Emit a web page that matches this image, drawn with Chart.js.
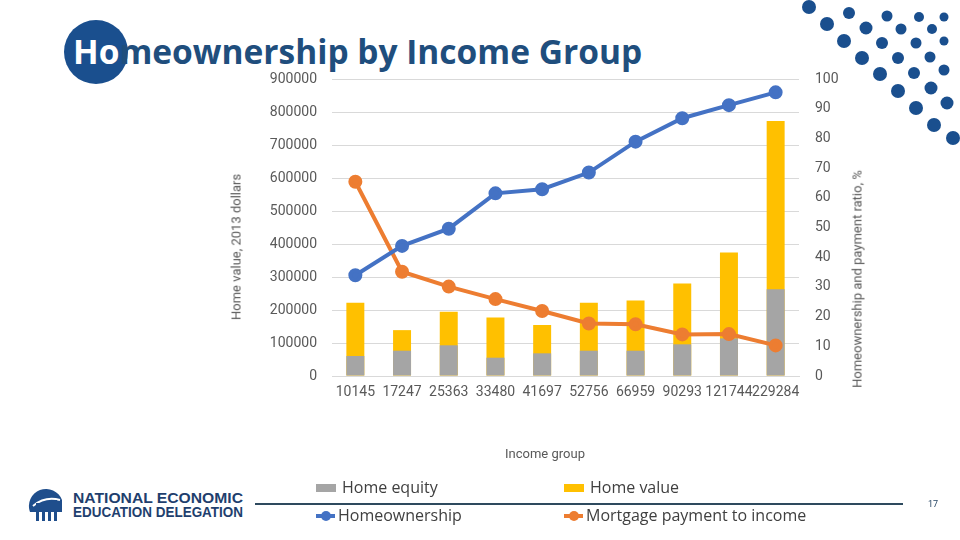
<!DOCTYPE html>
<html lang="en">
<head>
    <meta charset="UTF-8">
    <title>Homeownership by Income Group</title>
    <script src="https://cdn.jsdelivr.net/npm/chart.js"></script>
    <style>
        body {
            margin: 0;
            width: 960px;
            height: 540px;
            background: #fff;
            overflow: hidden;
            position: relative;
            font-family: 'Roboto', sans-serif;
        }
        .chart-container {
            position: absolute;
            left: 0;
            top: 0;
            width: 960px;
            height: 540px;
        }
        #title {
            position: absolute;
            left: 73px;
            top: 28px;
            font-family: 'Open Sans', sans-serif;
            font-weight: 700;
            font-size: 33.5px;
            color: #1f4e7d;
            white-space: nowrap;
        }
        #title .ho { color: #fff; }
        #circle {
            position: absolute;
            left: 64px;
            top: 20px;
            width: 64px;
            height: 64px;
            border-radius: 50%;
            background: #1a4f8e;
        }
        .axis-title {
            position: absolute;
            font-size: 13px;
            color: #595959;
            white-space: nowrap;
        }
        .rot {
            transform: translate(-50%, -50%) rotate(-90deg);
        }
        .legend-item {
            position: absolute;
            font-family: 'Open Sans', sans-serif;
            font-size: 16px;
            color: #404040;
            white-space: nowrap;
            line-height: 20px;
        }
        #rule {
            position: absolute;
            left: 255px;
            top: 503px;
            width: 648px;
            height: 1.5px;
            background: #2e4a5e;
        }
        #page {
            position: absolute;
            left: 928px;
            top: 499px;
            font-size: 9px;
            color: #1f3f5f;
        }
    </style>
</head>
<body>
    <div id="circle"></div>
    <div id="title"><span class="ho">Ho</span>meownership by Income Group</div>

    <svg width="960" height="540" style="position:absolute;left:0;top:0" id="deco"></svg>

    <div class="chart-container">
        <canvas id="homeChart"></canvas>
    </div>

    <div class="axis-title rot" style="left:236px;top:247px">Home value, 2013 dollars</div>
    <div class="axis-title rot" style="left:857px;top:279px">Homeownership and payment ratio, %</div>
    <div class="axis-title" style="left:545px;top:453px;transform:translate(-50%,-50%)">Income group</div>

    <div id="legend"></div>
    <div id="rule"></div>
    <div id="page">17</div>

    <script>
        const incomeGroups = ['10145', '17247', '25363', '33480', '41697', '52756', '66959', '90293', '121744', '229284'];
        const homeEquity = [60600, 76700, 93000, 55500, 68700, 76700, 76700, 96000, 114000, 263000];
        const homeValue = [222000, 139000, 195000, 177000, 154500, 222000, 229000, 280000, 374000, 773000];
        const homeownership = [33.9, 43.8, 49.6, 61.5, 62.9, 68.5, 78.9, 86.8, 91.2, 95.5];
        const mortgageToIncome = [65.4, 35.1, 30.1, 25.9, 21.9, 17.7, 17.4, 14.0, 14.1, 10.3];

        const colors = {
            equity: '#a5a5a5',
            value: '#ffc000',
            own: '#4472c4',
            mortgage: '#ed7d31'
        };

        // decoration: dots top right + logo
        const dots = [
            [809,7,7],[849,13,6],[887,16,5.5],[919,17,5],[944,17,4.5],
            [827,24,7],[866,28,6.5],[901,29,5.5],[932,29,5],
            [844,41,7],[882,43,6],[916,43,5.5],[944,41,4.5],
            [862,58,7],[898,58,6],[930,57,5.5],
            [880,74,7],[914,73,6],[944,70,5.5],
            [898,91,7],[931,88,6.5],
            [916,108,7],[947,103,6.5],
            [934,125,7],[953,138,7]
        ];
        let svg = '';
        dots.forEach(d => {
            svg += `<circle cx="${d[0]}" cy="${d[1]}" r="${d[2]}" fill="#1a4f8e"/>`;
        });
        // logo icon
        svg += '<path d="M30 512 A16 16 0 0 1 62 500 L62 512 Z" fill="#1f4e8c"/>';
        svg += '<path d="M33 506 Q45 496 60 500" stroke="#fff" stroke-width="2" fill="none"/>';
        [36, 42, 48, 54].forEach((x, i) => {
            svg += `<rect x="${x}" y="${503 - i}" width="3" height="${18 + i}" fill="#1f4e8c"/>`;
        });
        svg += '<text x="73" y="503" font-family="Liberation Sans" font-weight="700" font-size="14" fill="#1f3f6e" textLength="170" lengthAdjust="spacingAndGlyphs">NATIONAL ECONOMIC</text>';
        svg += '<text x="73" y="517" font-family="Liberation Sans" font-weight="700" font-size="14" fill="#1f3f6e" textLength="170" lengthAdjust="spacingAndGlyphs">EDUCATION DELEGATION</text>';
        document.getElementById('deco').innerHTML = svg;

        const ctx = document.getElementById('homeChart').getContext('2d');
        const tickFont = { family: 'Roboto', size: 14 };

        const chart = new Chart(ctx, {
            data: {
                labels: incomeGroups,
                datasets: [
                    {
                        type: 'line',
                        label: 'Homeownership',
                        data: homeownership,
                        yAxisID: 'y1',
                        borderColor: colors.own,
                        backgroundColor: colors.own,
                        borderWidth: 4,
                        pointRadius: 5,
                        pointBackgroundColor: colors.own,
                        pointBorderColor: colors.own,
                        order: 0
                    },
                    {
                        type: 'line',
                        label: 'Mortgage payment to income',
                        data: mortgageToIncome,
                        yAxisID: 'y1',
                        borderColor: colors.mortgage,
                        backgroundColor: colors.mortgage,
                        borderWidth: 4,
                        pointRadius: 5,
                        pointBackgroundColor: colors.mortgage,
                        pointBorderColor: colors.mortgage,
                        order: 0
                    },
                    {
                        type: 'bar',
                        label: 'Home equity',
                        data: homeEquity,
                        yAxisID: 'y',
                        backgroundColor: colors.equity,
                        grouped: false,
                        barPercentage: 0.385,
                        categoryPercentage: 1,
                        order: 1
                    },
                    {
                        type: 'bar',
                        label: 'Home value',
                        data: homeValue,
                        yAxisID: 'y',
                        backgroundColor: colors.value,
                        grouped: false,
                        barPercentage: 0.385,
                        categoryPercentage: 1,
                        order: 2
                    }
                ]
            },
            options: {
                responsive: true,
                maintainAspectRatio: false,
                animation: false,
                layout: {
                    padding: { left: 200, right: 100, top: 79, bottom: 124 }
                },
                plugins: {
                    legend: { display: false },
                    tooltip: { enabled: false }
                },
                scales: {
                    x: {
                        grid: { display: false, drawTicks: false },
                        border: { display: true, color: '#d9d9d9' },
                        ticks: {
                            font: tickFont,
                            color: '#595959',
                            padding: 8,
                            autoSkip: false,
                            maxRotation: 0,
                            minRotation: 0
                        },
                        afterFit: s => { s.height = 40; }
                    },
                    y: {
                        position: 'left',
                        min: 0,
                        max: 900000,
                        grid: { color: '#d9d9d9', drawTicks: false },
                        border: { display: false },
                        ticks: {
                            stepSize: 100000,
                            font: tickFont,
                            color: '#595959',
                            padding: 15,
                            callback: v => String(v)
                        },
                        afterFit: s => { s.width = 132; }
                    },
                    y1: {
                        position: 'right',
                        min: 0,
                        max: 100,
                        grid: { display: false, drawTicks: false },
                        border: { display: false },
                        ticks: {
                            stepSize: 10,
                            font: tickFont,
                            color: '#595959',
                            padding: 16
                        },
                        afterFit: s => { s.width = 61; }
                    }
                }
            }
        });

        // legend built from the dataset labels
        const legendPos = [
            { ds: 2, x: 316, y: 477, kind: 'box' },
            { ds: 3, x: 564, y: 477, kind: 'box' },
            { ds: 0, x: 316, y: 505, kind: 'line' },
            { ds: 1, x: 564, y: 505, kind: 'line' }
        ];
        let html = '';
        legendPos.forEach(p => {
            const d = chart.data.datasets[p.ds];
            const c = d.type === 'bar' ? d.backgroundColor : d.borderColor;
            let sw;
            if (p.kind === 'box') {
                sw = `<span style="display:inline-block;width:20px;height:8px;background:${c};margin-right:6px;vertical-align:1px"></span>`;
            } else {
                sw = `<span style="display:inline-block;position:relative;width:19px;height:10px;margin-right:3px;vertical-align:0px">` +
                     `<span style="position:absolute;left:0;top:3px;width:19px;height:4px;background:${c}"></span>` +
                     `<span style="position:absolute;left:4.5px;top:0;width:10px;height:10px;border-radius:50%;background:${c}"></span></span>`;
            }
            html += `<div class="legend-item" style="left:${p.x}px;top:${p.y}px">${sw}${d.label}</div>`;
        });
        document.getElementById('legend').innerHTML = html;
    </script>
</body>
</html>
